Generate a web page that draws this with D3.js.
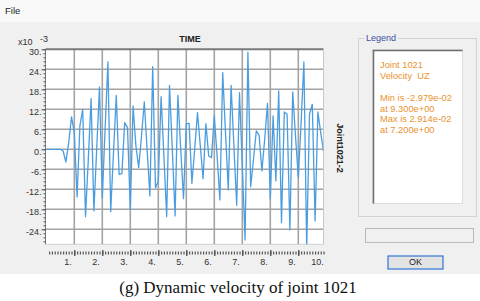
<!DOCTYPE html>
<html><head><meta charset="utf-8">
<script src="https://cdn.jsdelivr.net/npm/d3@7"></script>
<style>
html,body{margin:0;padding:0;background:#fff;}
svg{display:block;font-family:"Liberation Sans",Arial,sans-serif;}
</style></head><body>
<svg id="c" width="480" height="301"></svg>
<script>
// ---- data (velocity in units of 1e-3) ----
const times = [0.0,0.1,0.2,0.3,0.4,0.5,0.6,0.7,0.8,0.9,
  1.0,1.1,1.2,1.3,1.4,1.5,1.6,1.7,1.8,1.9,
  2.0,2.1,2.2,2.3,2.4,2.5,2.6,2.7,2.8,2.9,
  3.0,3.1,3.2,3.3,3.4,3.5,3.6,3.7,3.8,3.9,
  4.0,4.1,4.2,4.3,4.4,4.5,4.6,4.7,4.8,4.9,
  5.0,5.1,5.2,5.3,5.4,5.5,5.6,5.7,5.8,5.9,
  6.0,6.1,6.2,6.3,6.4,6.5,6.6,6.7,6.8,6.9,
  7.0,7.1,7.2,7.3,7.4,7.5,7.6,7.7,7.8,7.9,
  8.0,8.1,8.2,8.3,8.4,8.5,8.6,8.7,8.8,8.9,
  9.0,9.1,9.2,9.3,9.4,9.5,9.6,9.7,9.8,9.9];
const velocity = [0,0,0,0,0,0,-0.5,-3.8,2,9.7,
  5,-14.3,7,12,-20.2,-3,15.2,-18.5,0,18.7,
  -14.5,6,26.2,-18.7,-1,16.2,-7.5,-7.3,8,6.5,
  -18,13,1,-5.5,4,14.2,0,-14,24.8,-11.5,
  -9.5,15.8,-2,-20.2,19.2,0,-20,16.2,0,-14.8,
  7.7,7.8,-10.2,0,11,1,-8.8,7.7,-2,-2.5,
  10,-2,-15.2,23,5,-12.2,19.2,1,-16.8,17,
  -5,-27.2,29.14,-11.2,-3,5.5,4.2,-6.5,3,13.8,
  -14.8,10,-9.5,17.5,-22,11.2,10.5,-24.2,17.2,4,
  -8.5,8,26.2,-29.79,10.5,13.5,-21.5,11.2,5,-0.5];
const xMajorTicks = [1,2,3,4,5,6,7,8,9,10];
const xTickLabels = ["1.","2.","3.","4.","5.","6.","7.","8.","9.","10."];
const yTickValues = [30,24,18,12,6,0,-6,-12,-18,-24];
const yTickLabels = ["30.","24.","18.","12.","6.","0.","-6.","-12.","-18.","-24."];
const legendLines = ["Joint 1021","Velocity  UZ","","Min is -2.979e-02","at 9.300e+00","Max is 2.914e-02","at 7.200e+00"];
const axisTitle = "TIME";
const seriesName = "Joint1021-2";
const caption = "(g) Dynamic velocity of joint 1021";

const svg = d3.select("#c");

// window background
svg.append("rect").attr("x",0).attr("y",0).attr("width",480).attr("height",22).attr("fill","#f9f9f9");
svg.append("rect").attr("x",0).attr("y",22).attr("width",480).attr("height",252).attr("fill","#f0f0f0");
svg.append("rect").attr("x",0).attr("y",274).attr("width",480).attr("height",27).attr("fill","#ffffff");
svg.append("text").attr("x",5).attr("y",11).attr("font-size",9.5).attr("fill","#222").attr("dominant-baseline","middle").text("File");

// scales
const L=45.5, R=323.5, T=49.3, B=244.3;
const x = d3.scaleLinear().domain([0,9.9]).range([46.3,323.5]);
const y = d3.scaleLinear().domain([-28.5,30]).range([B,T]);

// plot area
svg.append("rect").attr("x",L).attr("y",T).attr("width",R-L).attr("height",B-T).attr("fill","#fff");

const grid = svg.append("g").attr("stroke","#a3a3a3").attr("stroke-width",1.6);
grid.selectAll("line.v").data(xMajorTicks.filter(d=>d<9.9)).join("line")
  .attr("x1",d=>x(d)).attr("x2",d=>x(d)).attr("y1",T).attr("y2",B);
grid.selectAll("line.h").data(yTickValues.filter(d=>d<30)).join("line").attr("class","h")
  .attr("x1",L).attr("x2",R).attr("y1",d=>y(d)).attr("y2",d=>y(d));
// borders
svg.append("line").attr("x1",L).attr("x2",R).attr("y1",T).attr("y2",T).attr("stroke","#7a7a7a").attr("stroke-width",2);
svg.append("line").attr("x1",R).attr("x2",R).attr("y1",T).attr("y2",B).attr("stroke","#c8c8c8").attr("stroke-width",1);
svg.append("line").attr("x1",L).attr("x2",R).attr("y1",B).attr("y2",B).attr("stroke","#d0d0d0").attr("stroke-width",1);
svg.append("line").attr("x1",L).attr("x2",L).attr("y1",T).attr("y2",B).attr("stroke","#777").attr("stroke-width",1);

// y axis ticks
const yMinor = d3.range(30,-28.5,-1.2);
const yMinAxis = d3.axisLeft(y).tickValues(yMinor).tickSize(2).tickFormat("");
const gYm = svg.append("g").attr("transform",`translate(${L},0)`).call(yMinAxis);
gYm.select(".domain").remove(); gYm.selectAll("line").attr("stroke","#555");
const yMajAxis = d3.axisLeft(y).tickValues(yTickValues).tickSize(4).tickFormat("");
const gY = svg.append("g").attr("transform",`translate(${L},0)`).call(yMajAxis);
gY.select(".domain").remove(); gY.selectAll("line").attr("stroke","#555");
svg.append("g").selectAll("text").data(yTickValues).join("text")
  .attr("x",41.5).attr("y",d=>y(d)+3.8).attr("text-anchor","end").attr("dominant-baseline","middle")
  .attr("font-size",9).attr("fill","#333").text((d,i)=>yTickLabels[i]);

// x tick row
const xMinor = d3.range(1,100).map(i=>i/10);
const xMinAxis = d3.axisBottom(x).tickValues(xMinor).tickSize(3).tickFormat("");
const gXm = svg.append("g").attr("transform","translate(0,251.5)").call(xMinAxis);
gXm.select(".domain").remove(); gXm.selectAll("line").attr("stroke","#555").attr("stroke-width",1.2);
const xMajAxis = d3.axisBottom(x).tickValues(xMajorTicks.filter(d=>d<9.9)).tickSize(6).tickFormat("");
const gX = svg.append("g").attr("transform","translate(0,250)").call(xMajAxis);
gX.select(".domain").remove(); gX.selectAll("line").attr("stroke","#444").attr("stroke-width",1.2);
svg.append("g").selectAll("text").data(xMajorTicks).join("text")
  .attr("x",d=>x(d)-2.5).attr("y",263).attr("text-anchor","end").attr("dominant-baseline","middle")
  .attr("font-size",9).attr("fill","#333").text((d,i)=>xTickLabels[i]);

// titles
svg.append("text").attr("x",190).attr("y",39.5).attr("text-anchor","middle").attr("dominant-baseline","middle")
  .attr("font-size",9).attr("font-weight","bold").attr("fill","#222").text(axisTitle);
svg.append("text").attr("x",18).attr("y",43).attr("dominant-baseline","middle").attr("font-size",9).attr("fill","#333").text("x10");
svg.append("text").attr("x",40).attr("y",40).attr("dominant-baseline","middle").attr("font-size",9).attr("fill","#333").text("-3");
svg.append("text").attr("transform","translate(339,148) rotate(90)").attr("text-anchor","middle").attr("dominant-baseline","middle")
  .attr("font-size",9).attr("font-weight","bold").attr("fill","#222").text(seriesName);

// series line
svg.append("clipPath").attr("id","clip").append("rect").attr("x",L).attr("y",T).attr("width",R-L).attr("height",B-T);
const line = d3.line().x((d,i)=>x(times[i])).y(d=>y(d));
svg.append("path").datum(velocity).attr("clip-path","url(#clip)").attr("d",line)
  .attr("fill","none").attr("stroke","#4a9de0").attr("stroke-width",1.3).attr("stroke-linejoin","round");

// legend group
svg.append("rect").attr("x",358.5).attr("y",38.5).attr("width",118).attr("height",178).attr("fill","none").attr("stroke","#d2d2d2");
svg.append("rect").attr("x",364).attr("y",33).attr("width",34).attr("height",11).attr("fill","#f0f0f0");
svg.append("text").attr("x",366).attr("y",38.5).attr("dominant-baseline","middle").attr("font-size",9).attr("fill","#3e4ea6").text("Legend");
svg.append("rect").attr("x",372.5).attr("y",49.5).attr("width",90).attr("height",154).attr("fill","#fff").attr("stroke","#dcdcdc");
svg.append("path").attr("d","M373.5,203.5V50.5H462.5").attr("fill","none").attr("stroke","#6e6e6e").attr("stroke-width",1.5);
svg.append("g").selectAll("text").data(legendLines).join("text")
  .attr("x",380).attr("y",(d,i)=>66+i*10.8).attr("dominant-baseline","middle").attr("font-size",9.3).attr("fill","#e8922e")
  .attr("xml:space","preserve").style("white-space","pre").text(d=>d);

// status field
svg.append("rect").attr("x",365.5).attr("y",228.5).attr("width",108).attr("height",14).attr("fill","#f0f0f0").attr("stroke","#b9b9b9");
// OK button
svg.append("rect").attr("x",388).attr("y",256).attr("width",55).attr("height",13).attr("fill","#e3e3e3").attr("stroke","#3d7fd6").attr("stroke-width",1.3);
svg.append("text").attr("x",415.5).attr("y",262.8).attr("text-anchor","middle").attr("dominant-baseline","middle").attr("font-size",9).attr("fill","#222").text("OK");

// caption
svg.append("text").attr("x",238).attr("y",289).attr("text-anchor","middle").attr("dominant-baseline","middle")
  .attr("font-family","'Liberation Serif','Times New Roman',serif").attr("font-size",17).attr("fill","#111").text(caption);
</script>
</body></html>
